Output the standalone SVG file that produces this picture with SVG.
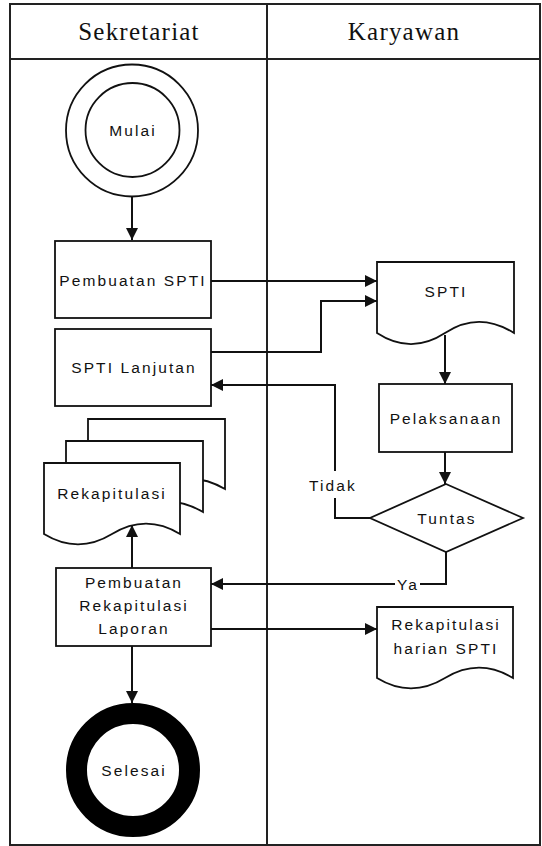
<svg xmlns="http://www.w3.org/2000/svg" width="542" height="846" viewBox="0 0 542 846">
<style>
.fr{fill:none;stroke:#222;stroke-width:2}
.sh{fill:#fff;stroke:#111;stroke-width:1.8}
.ln{fill:none;stroke:#111;stroke-width:2}
.t{font-family:"Liberation Sans",Arial,sans-serif;font-size:15.5px;letter-spacing:2.1px;fill:#111;text-anchor:middle;dominant-baseline:central}
.h{font-family:"Liberation Serif","Times New Roman",serif;font-size:25px;letter-spacing:1.2px;fill:#111;text-anchor:middle;dominant-baseline:central}
</style>
<defs>
<marker id="ah" markerUnits="userSpaceOnUse" markerWidth="14" markerHeight="14" refX="12" refY="6" orient="auto">
<path d="M0,0 L12,6 L0,12 Z" fill="#111"/>
</marker>
</defs>
<rect width="542" height="846" fill="#fff"/>
<g id="frame">
<rect class="fr" x="10" y="4" width="530" height="841"/>
<line class="fr" x1="10" y1="59" x2="540" y2="59"/>
<line class="fr" x1="267" y1="4" x2="267" y2="845"/>
<text class="h" x="139" y="31">Sekretariat</text>
<text class="h" x="404" y="31">Karyawan</text>
</g>
<g id="connectors">
<line class="ln" x1="132" y1="197" x2="132" y2="240" marker-end="url(#ah)"/>
<line class="ln" x1="211" y1="281" x2="377" y2="281" marker-end="url(#ah)"/>
<polyline class="ln" points="211,352 321,352 321,301 377,301" marker-end="url(#ah)"/>
<line class="ln" x1="445" y1="335" x2="445" y2="384" marker-end="url(#ah)"/>
<line class="ln" x1="445" y1="452" x2="445" y2="484" marker-end="url(#ah)"/>
<polyline class="ln" points="370,518 335,518 335,498"/>
<polyline class="ln" points="335,471 335,385 211,385" marker-end="url(#ah)"/>
<polyline class="ln" points="446,552 446,584 420,584"/>
<line class="ln" x1="395" y1="584" x2="211" y2="584" marker-end="url(#ah)"/>
<line class="ln" x1="132" y1="568" x2="132" y2="525" marker-end="url(#ah)"/>
<line class="ln" x1="211" y1="629" x2="377" y2="629" marker-end="url(#ah)"/>
<line class="ln" x1="132" y1="646" x2="132" y2="703" marker-end="url(#ah)"/>
<text class="t" x="333" y="485">Tidak</text>
<text class="t" x="408" y="584">Ya</text>
</g>
<g id="mulai">
<circle class="sh" cx="132" cy="130.5" r="66" stroke-width="1.5"/>
<circle class="sh" cx="132.5" cy="130" r="47" stroke-width="1.5"/>
<text class="t" x="133" y="130">Mulai</text>
</g>
<g id="pembuatan-spti">
<rect class="sh" x="55" y="241" width="156" height="77"/>
<text class="t" x="133" y="280">Pembuatan SPTI</text>
</g>
<g id="spti-lanjutan">
<rect class="sh" x="55" y="329" width="156" height="77"/>
<text class="t" x="134" y="367">SPTI Lanjutan</text>
</g>
<g id="spti">
<path class="sh" d="M377,262 H514 V333 C490,318 468,318 445,333 C422,348 400,348 377,333 Z"/>
<text class="t" x="446" y="291">SPTI</text>
</g>
<g id="pelaksanaan">
<rect class="sh" x="379" y="384" width="133" height="68"/>
<text class="t" x="446" y="418">Pelaksanaan</text>
</g>
<g id="tuntas">
<polygon class="sh" points="446,484 523,518 446,552 370,518" stroke-width="1.5"/>
<text class="t" x="447" y="518">Tuntas</text>
</g>
<g id="rekapitulasi">
<path class="sh" d="M88,419 H225 V489 C201,475 179,475 156,489 C133,503 111,503 88,489 Z"/>
<path class="sh" d="M66,441 H203 V512 C179,498 157,498 134,512 C111,526 89,526 66,512 Z"/>
<path class="sh" d="M44,463 H180 V534 C157,520 135,520 112,534 C89,548 67,548 44,534 Z"/>
<text class="t" x="112" y="493">Rekapitulasi</text>
</g>
<g id="pembuatan-rekapitulasi">
<rect class="sh" x="56" y="568" width="155" height="78"/>
<text class="t" x="134" y="582">Pembuatan</text>
<text class="t" x="134" y="605">Rekapitulasi</text>
<text class="t" x="134" y="628">Laporan</text>
</g>
<g id="rekap-harian">
<path class="sh" d="M377,607 H513 V678 C490,664 468,664 445,678 C422,692 400,692 377,678 Z"/>
<text class="t" x="446" y="624">Rekapitulasi</text>
<text class="t" x="446" y="648">harian SPTI</text>
</g>
<g id="selesai">
<circle cx="133" cy="770" r="56.5" fill="#fff" stroke="#000" stroke-width="21"/>
<text class="t" x="134" y="770">Selesai</text>
</g>
</svg>
